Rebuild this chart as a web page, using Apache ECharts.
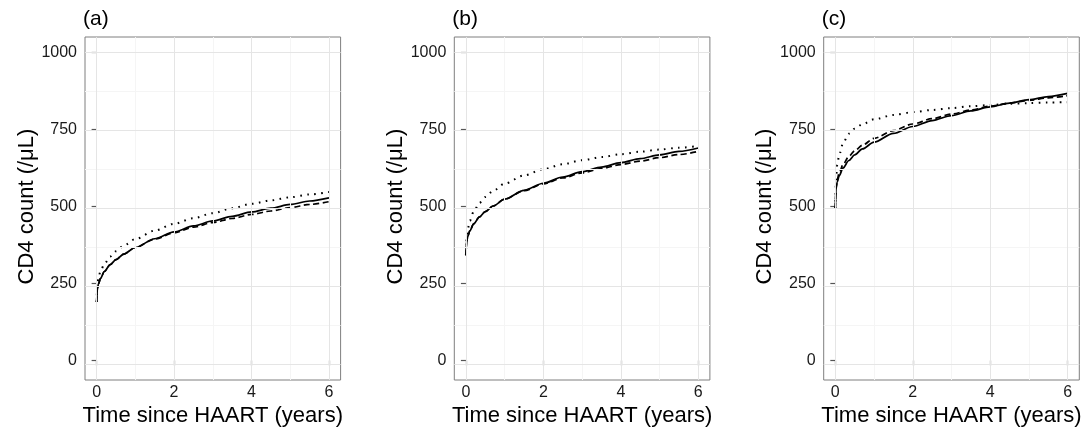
<!DOCTYPE html>
<html>
<head>
<meta charset="utf-8">
<style>
  html, body { margin: 0; padding: 0; background: #ffffff; }
  #chart { width: 1088px; height: 432px; }
</style>
<script src="https://cdn.jsdelivr.net/npm/echarts@6/dist/echarts.min.js"></script>
</head>
<body>
<div id="chart"></div>
<script>
// ---- data ----
const tx = [0, 0.02, 0.05, 0.1, 0.2, 0.35, 0.5, 0.7, 1, 1.5, 2, 2.5, 3, 3.5, 4, 4.5, 5, 5.5, 6];

const aSolid  = [200, 243, 259, 276, 298, 320, 336, 354, 375, 403, 425, 444, 460, 475, 489, 501, 513, 524, 534];
const aDashed = [200, 243, 259, 276, 298, 320, 336, 354, 375, 402, 422, 440, 455, 468, 481, 492, 503, 513, 522];
const aDotted = [200, 260, 279, 299, 322, 346, 363, 381, 402, 429, 451, 469, 485, 501, 515, 526, 536, 545, 553];

const bSolid  = [350, 394, 411, 428, 451, 473, 490, 508, 530, 558, 581, 601, 618, 633, 647, 660, 672, 683, 694];
const bDashed = [350, 394, 411, 428, 451, 473, 490, 508, 530, 557, 579, 598, 614, 628, 641, 652, 663, 673, 683];
const bDotted = [350, 405, 435, 460, 490, 518, 537, 556, 580, 606, 626, 642, 655, 665, 674, 682, 689, 695, 700];

const cSolid  = [500, 564, 585, 605, 630, 654, 672, 691, 713, 741, 763, 782, 798, 813, 826, 838, 849, 859, 869];
const cDashed = [500, 570, 594, 614, 641, 667, 685, 703, 725, 750, 771, 788, 803, 816, 828, 838, 847, 855, 862];
const cDotted = [500, 600, 640, 672, 710, 740, 756, 770, 786, 800, 809, 816, 822, 828, 832, 836, 838, 840, 841];

const panelLabels = ['(a)', '(b)', '(c)'];
const xTitle = 'Time since HAART (years)';
const yTitle = 'CD4 count (/\u03bcL)';

const xMajor = [0, 2, 4, 6];
const xMinor = [1, 3, 5];
const yMajor = [0, 250, 500, 750, 1000];
const yMinor = [125, 375, 625, 875];

// ---- layout ----
const FONT = "'Liberation Sans', Arial, Helvetica, sans-serif";
const panelLefts = [85, 454.3, 823.7];
const W = 255.6, TOP = 37, H = 343;
const ix = W * 0.3 / 6.6;
const iy = H * 50 / 1100;

const seriesSets = [
  [aSolid, aDashed, aDotted],
  [bSolid, bDashed, bDotted],
  [cSolid, cDashed, cDotted]
];

const pair = (ys) => tx.map((t, i) => [t, ys[i]]);

const option = {
  animation: false,
  backgroundColor: '#ffffff',
  textStyle: { fontFamily: FONT },
  title: [],
  grid: [],
  xAxis: [],
  yAxis: [],
  series: []
};

panelLefts.forEach((L, p) => {
  const og = 2 * p, ig = 2 * p + 1;
  option.title.push({
    text: panelLabels[p], left: L - 2, top: 9, padding: 0,
    textStyle: { fontSize: 21, fontWeight: 'normal', color: '#000', fontFamily: FONT }
  });
  option.grid.push({
    left: L, top: TOP, width: W, height: H, show: true,
    borderColor: '#7f7f7f', borderWidth: 1, backgroundColor: '#ffffff', z: 0
  });
  option.grid.push({
    left: L + ix, top: TOP + iy, width: W - 2 * ix, height: H - 2 * iy, show: false
  });
  option.xAxis.push({
    gridIndex: og, type: 'value', min: -0.3, max: 6.3, show: false
  });
  option.yAxis.push({
    gridIndex: og, type: 'value', min: -50, max: 1050, show: false
  });
  option.xAxis.push({
    gridIndex: ig, type: 'value', min: 0, max: 6, interval: 2, offset: iy,
    axisLine: { show: false },
    axisTick: { show: true, length: 5, lineStyle: { color: '#555', width: 1.2 } },
    axisLabel: { fontSize: 16, color: '#1a1a1a', margin: 8, fontFamily: FONT,
                 formatter: v => String(v) },
    splitLine: { show: false },
    name: xTitle, nameLocation: 'middle', nameGap: 26,
    nameTextStyle: { fontSize: 22, color: '#000', fontFamily: FONT }
  });
  option.yAxis.push({
    gridIndex: ig, type: 'value', min: 0, max: 1000, interval: 250, offset: ix,
    axisLine: { show: false },
    axisTick: { show: true, length: 5, lineStyle: { color: '#555', width: 1.2 } },
    axisLabel: { fontSize: 16, color: '#1a1a1a', margin: 8, fontFamily: FONT,
                 formatter: v => String(v) },
    splitLine: { show: false },
    name: yTitle, nameLocation: 'middle', nameGap: 43,
    nameTextStyle: { fontSize: 22, color: '#000', fontFamily: FONT }
  });

  const gl = [];
  xMinor.forEach(v => gl.push({ xAxis: v, lineStyle: { color: '#f5f5f5', width: 1, type: 'solid' } }));
  yMinor.forEach(v => gl.push({ yAxis: v, lineStyle: { color: '#f5f5f5', width: 1, type: 'solid' } }));
  xMajor.forEach(v => gl.push({ xAxis: v, lineStyle: { color: '#e5e5e5', width: 1, type: 'solid' } }));
  yMajor.forEach(v => gl.push({ yAxis: v, lineStyle: { color: '#e5e5e5', width: 1, type: 'solid' } }));
  option.series.push({
    type: 'line', xAxisIndex: og, yAxisIndex: og, data: [], z: 1, silent: true,
    markLine: { silent: true, symbol: ['none', 'none'], label: { show: false }, animation: false, data: gl }
  });

  const [sol, das, dot] = seriesSets[p];
  const common = { type: 'line', xAxisIndex: og, yAxisIndex: og, showSymbol: false, symbol: 'none',
                   smooth: 0.3, smoothMonotone: 'x', silent: true, clip: true, z: 3 };
  option.series.push(Object.assign({}, common, {
    data: pair(dot), lineStyle: { color: '#000', width: 2, type: [1.6, 5.4], cap: 'butt' }
  }));
  option.series.push(Object.assign({}, common, {
    data: pair(das), lineStyle: { color: '#000', width: 1.7, type: [6, 3.5] }
  }));
  option.series.push(Object.assign({}, common, {
    data: pair(sol), lineStyle: { color: '#000', width: 1.7, type: 'solid' }
  }));
});

const chart = echarts.init(document.getElementById('chart'), null, { renderer: 'canvas' });
chart.setOption(option);
</script>
</body>
</html>
